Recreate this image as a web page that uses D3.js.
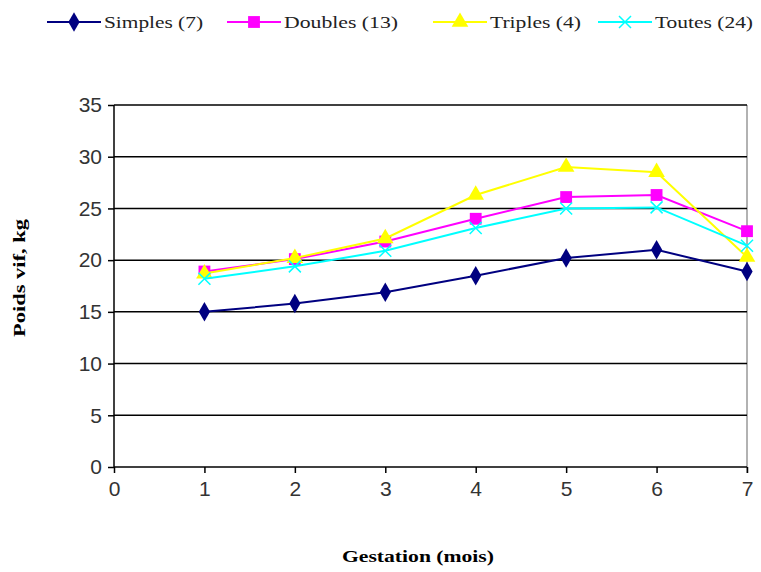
<!DOCTYPE html>
<html>
<head>
<meta charset="utf-8">
<script src="https://cdn.jsdelivr.net/npm/d3@7"></script>
<style>
  body { margin: 0; background: #fff; }
</style>
</head>
<body>
<div id="chart"></div>
<script>
// data
var months = [1, 2, 3, 4, 5, 6, 7];
var simples = [15.0, 15.8, 16.9, 18.5, 20.2, 21.0, 18.9];
var doubles = [18.9, 20.1, 21.8, 24.0, 26.1, 26.3, 22.8];
var triples = [18.7, 20.2, 22.1, 26.3, 29.0, 28.5, 20.3];
var toutes  = [18.2, 19.4, 20.9, 23.1, 25.0, 25.1, 21.4];
var seriesNames = ["Simples (7)", "Doubles (13)", "Triples (4)", "Toutes (24)"];
var xTicks = [0, 1, 2, 3, 4, 5, 6, 7];
var yTicks = [0, 5, 10, 15, 20, 25, 30, 35];

var width = 761, height = 572;
// plot area edges (don't call it "top", window.top is taken)
var pLeft = 114, pRight = 747, pTop = 105, pBottom = 467;

var series = [
  { name: seriesNames[0], values: simples, color: "#000080", symbol: d3.symbolDiamond, size: 110 },
  { name: seriesNames[1], values: doubles, color: "#ff00ff", symbol: d3.symbolSquare, size: 140 },
  { name: seriesNames[2], values: triples, color: "#ffff00", symbol: d3.symbolTriangle, size: 120 },
  { name: seriesNames[3], values: toutes,  color: "#00ffff", symbol: "x", size: 0 }
];

var svg = d3.select("#chart").append("svg")
  .attr("width", width)
  .attr("height", height);

var x = d3.scaleLinear().domain([0, 7]).range([pLeft, pRight]);
var y = d3.scaleLinear().domain([0, 35]).range([pBottom, pTop]);

// right border of plot area
svg.append("line")
  .attr("x1", pRight).attr("x2", pRight)
  .attr("y1", pTop).attr("y2", pBottom + 6)
  .attr("stroke", "#999").attr("stroke-width", 1.5);

// horizontal grid lines
svg.append("g")
  .selectAll("line")
  .data(yTicks.slice(1))
  .enter().append("line")
  .attr("x1", pLeft).attr("x2", pRight)
  .attr("y1", function(d) { return y(d); })
  .attr("y2", function(d) { return y(d); })
  .attr("stroke", "#000").attr("stroke-width", 1.5);

// y axis
var yAxis = svg.append("g")
  .attr("transform", "translate(" + pLeft + ",0)")
  .call(d3.axisLeft(y).tickValues(yTicks).tickFormat(d3.format("d")).tickSize(6).tickPadding(6));
// x axis
var xAxis = svg.append("g")
  .attr("transform", "translate(0," + pBottom + ")")
  .call(d3.axisBottom(x).tickValues(xTicks).tickFormat(d3.format("d")).tickSize(6).tickPadding(8));

[yAxis, xAxis].forEach(function(ax) {
  ax.selectAll("path, line").attr("stroke", "#000").attr("stroke-width", 1.5);
  ax.selectAll("text")
    .attr("fill", "#333")
    .style("font-family", "'Liberation Sans', Arial, sans-serif")
    .style("font-size", "21px");
});
yAxis.select(".domain").attr("d", "M0," + pTop + "V" + pBottom);
xAxis.select(".domain").attr("d", "M" + pLeft + ",0H" + pRight);

// lines and markers
var line = d3.line()
  .x(function(d, i) { return x(months[i]); })
  .y(function(d) { return y(d); });

function drawMarker(g, s, cx, cy) {
  if (s.symbol === "x") {
    g.append("path")
      .attr("d", "M" + (cx - 6) + "," + (cy - 6) + "L" + (cx + 6) + "," + (cy + 6) +
                 "M" + (cx - 6) + "," + (cy + 6) + "L" + (cx + 6) + "," + (cy - 6))
      .attr("stroke", s.color).attr("stroke-width", 1.5).attr("fill", "none");
  } else {
    g.append("path")
      .attr("d", d3.symbol().type(s.symbol).size(s.size)())
      .attr("transform", "translate(" + cx + "," + cy + ")")
      .attr("fill", s.color);
  }
}

series.forEach(function(s) {
  var g = svg.append("g");
  g.append("path")
    .datum(s.values)
    .attr("d", line)
    .attr("fill", "none")
    .attr("stroke", s.color)
    .attr("stroke-width", 2);
  s.values.forEach(function(v, i) {
    drawMarker(g, s, x(months[i]), y(v));
  });
});

// legend
var legendX = [47, 227, 433, 598];
var legendW = [99, 114, 91, 98];
var legendY = 22;
series.forEach(function(s, i) {
  var g = svg.append("g");
  g.append("line")
    .attr("x1", legendX[i]).attr("x2", legendX[i] + 54)
    .attr("y1", legendY).attr("y2", legendY)
    .attr("stroke", s.color).attr("stroke-width", 2);
  drawMarker(g, s, legendX[i] + 27, legendY);
  g.append("text")
    .attr("x", legendX[i] + 57)
    .attr("y", legendY + 6)
    .attr("textLength", legendW[i])
    .attr("lengthAdjust", "spacingAndGlyphs")
    .style("font-family", "'Liberation Serif', 'Times New Roman', serif")
    .style("font-size", "17px")
    .attr("fill", "#222")
    .text(s.name);
});

// axis titles
svg.append("text")
  .attr("transform", "translate(25,278) rotate(-90)")
  .attr("text-anchor", "middle")
  .attr("textLength", 118)
  .attr("lengthAdjust", "spacingAndGlyphs")
  .style("font-family", "'Liberation Serif', 'Times New Roman', serif")
  .style("font-size", "17px")
  .style("font-weight", "bold")
  .text("Poids vif, kg");

svg.append("text")
  .attr("x", 418)
  .attr("y", 562)
  .attr("text-anchor", "middle")
  .attr("textLength", 152)
  .attr("lengthAdjust", "spacingAndGlyphs")
  .style("font-family", "'Liberation Serif', 'Times New Roman', serif")
  .style("font-size", "17px")
  .style("font-weight", "bold")
  .text("Gestation (mois)");
</script>
</body>
</html>
